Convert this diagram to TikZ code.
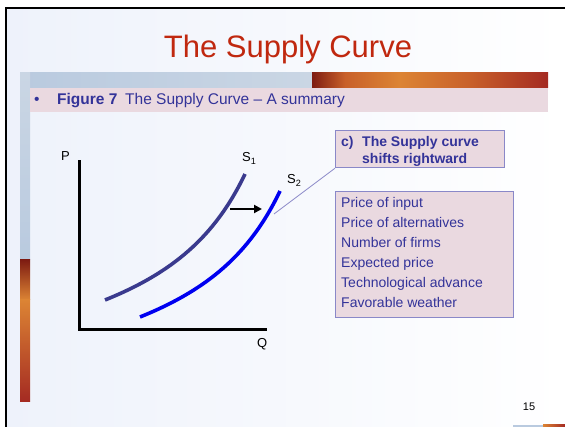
\documentclass[tikz,border=0pt]{standalone}
\usepackage{fontspec}
\setmainfont{Liberation Sans}
\usetikzlibrary{arrows.meta}
\definecolor{titlered}{HTML}{C0280F}
\definecolor{navy}{HTML}{333399}
\definecolor{sonecol}{HTML}{3A3A8E}
\definecolor{stwocol}{HTML}{0000F0}
\definecolor{pinkfill}{HTML}{EAD9E0}
\definecolor{boxline}{HTML}{8A88C8}
\definecolor{bgblue}{HTML}{EEF2FB}
\definecolor{greyblue}{HTML}{B9CADF}
\definecolor{greyblue2}{HTML}{CAD6E4}
\definecolor{dkred}{HTML}{7E1C12}
\definecolor{orng}{HTML}{DC8434}
\definecolor{orng2}{HTML}{C8602A}
\definecolor{redend}{HTML}{A42A22}
\tikzset{
  lbl/.style={anchor=base west, inner sep=0pt, font=\fontsize{14}{16}\selectfont, text=navy},
  axislbl/.style={anchor=base west, inner sep=0pt, font=\fontsize{13}{15}\selectfont, text=black},
  panel/.style={draw=boxline, line width=1.2pt, fill=pinkfill, rectangle, inner sep=0pt, anchor=north west},
  curve/.style={line width=3.6pt},
  axisline/.style={line width=3pt, line cap=rect}
}
\begin{document}
\begin{tikzpicture}[x=1pt,y=-1pt]
\useasboundingbox (0,0) rectangle (565,427);
% background
\fill[white] (0,0) rectangle (565,427);
\shade[left color=bgblue, right color=white] (6,8) rectangle (565,427);
% frame
\draw[line width=2.6pt] (6,427) -- (6,8) -- (565,8);
% decorative top bar
\shade[left color=greyblue, right color=greyblue2] (20,73) rectangle (312,88);
\shade[left color=dkred, right color=orng2] (312,73) rectangle (345,88);
\shade[left color=orng2, right color=orng] (345,73) rectangle (400,88);
\shade[left color=orng, right color=orng2] (400,73) rectangle (470,88);
\shade[left color=orng2, right color=redend] (470,73) rectangle (548,88);
% left vertical bar
\shade[top color=greyblue2, bottom color=greyblue] (20,73) rectangle (30,260);
\shade[top color=dkred, bottom color=orng] (20,260) rectangle (30,300);
\shade[top color=orng, bottom color=redend] (20,300) rectangle (30,402);
% pink summary band
\fill[pinkfill] (30,88) rectangle (548,112);
% bottom strip
\fill[greyblue] (513,425) rectangle (543,427);
\shade[left color=orng, right color=redend] (543,425) rectangle (565,427);
% title
\node[anchor=base, inner sep=0pt, font=\fontsize{31}{35}\selectfont, text=titlered] (title) at (288,58) {The Supply Curve};
% summary line
\node[lbl, font=\fontsize{15.5}{18}\selectfont] (bullet) at (34,105) {\textbullet};
\node[lbl, font=\fontsize{15.5}{18}\selectfont] (fig) at (57,105) {\textbf{Figure 7}\enspace The Supply Curve -- A summary};
% axes
\coordinate (origin) at (79,330);
\coordinate (ytop) at (79,162);
\coordinate (xend) at (265,330);
\draw[axisline] (ytop) -- (origin) -- (xend);
\node[axislbl] (P) at (61,161) {P};
\node[axislbl] (Q) at (257,348) {Q};
% supply curves
\coordinate (s1a) at (105,300);
\coordinate (s1b) at (245,174);
\coordinate (s2a) at (140,317);
\coordinate (s2b) at (280,191);
\draw[curve, sonecol] (s1a) .. controls (172,273) and (215,237) .. (s1b);
\draw[curve, stwocol] (s2a) .. controls (207,290) and (250,254) .. (s2b);
\node[axislbl] (S1) at (242,162) {S\textsubscript{1}};
\node[axislbl] (S2) at (287,184) {S\textsubscript{2}};
% shift arrow
\coordinate (arra) at (230,209);
\coordinate (arrb) at (262,209);
\draw[line width=2.4pt, -{Triangle[length=8pt,width=8pt]}] (arra) -- (arrb);
% callout box
\node[panel, minimum width=169pt, minimum height=37pt] (cbox) at (335,130) {};
\node[lbl] (cc) at (341,147) {\textbf{c)}};
\node[lbl] (ct1) at (362,147) {\textbf{The Supply curve}};
\node[lbl] (ct2) at (362,164) {\textbf{shifts rightward}};
\coordinate (cpoint) at (274,214);
\draw[boxline, line width=0.8pt] (cbox.south west) -- (cpoint);
% list box
\node[panel, minimum width=178pt, minimum height=126pt] (lbox) at (335,191) {};
\node[lbl] (l1) at (341,208) {Price of input};
\node[lbl] (l2) at (341,228) {Price of alternatives};
\node[lbl] (l3) at (341,248) {Number of firms};
\node[lbl] (l4) at (341,268) {Expected price};
\node[lbl] (l5) at (341,288) {Technological advance};
\node[lbl] (l6) at (341,308) {Favorable weather};
% page number
\node[anchor=base, inner sep=0pt, font=\fontsize{11}{13}\selectfont] (pg) at (529,411) {15};
\end{tikzpicture}
\end{document}
